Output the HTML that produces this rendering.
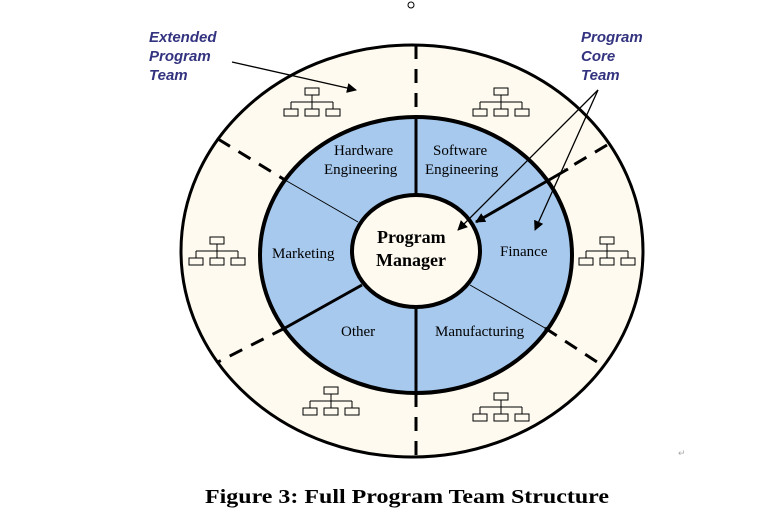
<!DOCTYPE html>
<html><head><meta charset="utf-8"><style>
html,body{margin:0;padding:0;background:#fff;width:779px;height:520px;overflow:hidden}
svg{display:block}
.s{font-family:"Liberation Serif",serif;font-size:15px;fill:#000}
.l{font-family:"Liberation Sans",sans-serif;font-size:15px;font-style:italic;font-weight:bold;fill:#333380}
.p{fill:#aaa;font-family:"Liberation Sans",sans-serif;font-size:9px}
</style></head><body>
<svg width="779" height="520" viewBox="0 0 779 520" xmlns="http://www.w3.org/2000/svg">
<defs>
<marker id="a" markerWidth="10" markerHeight="10" refX="9" refY="5" orient="auto" markerUnits="userSpaceOnUse"><path d="M0,0 L10,5 L0,10 z" fill="#000"/></marker>
<g id="org" fill="none" stroke="#000" stroke-width="1">
<rect x="-7" y="0" width="14" height="7"/><path d="M0,7V14M-21,14H21M-21,14V21M0,14V21M21,14V21"/>
<rect x="-28" y="21" width="14" height="7"/><rect x="-7" y="21" width="14" height="7"/><rect x="14" y="21" width="14" height="7"/>
</g>
</defs>
<circle cx="411" cy="5" r="3" fill="none" stroke="#000" stroke-width="1"/>
<ellipse cx="412" cy="251" rx="231" ry="206" fill="#fefaef" stroke="#000" stroke-width="3"/>
<ellipse cx="416" cy="255" rx="156" ry="138" fill="#a7c9ee" stroke="#000" stroke-width="4"/>
<g stroke="#000" stroke-width="3" stroke-dasharray="14,10" fill="none">
<path d="M416,45V117"/><path d="M416,393V457"/>
<path d="M218,139L285,180"/><path d="M285,328L218,362"/>
<path d="M607,145L565,170"/><path d="M545,328L597,362"/>
</g>
<g stroke="#000" fill="none">
<path d="M416,117V195" stroke-width="3"/><path d="M416,307V393" stroke-width="3"/>
<path d="M285,180L358,222" stroke-width="1"/>
<path d="M362,285L285,328" stroke-width="3"/>
<path d="M470,285L545,328" stroke-width="1"/>
<path d="M568,169L476,222" stroke-width="3" marker-end="url(#a)"/>
</g>
<ellipse cx="416" cy="251" rx="64" ry="56" fill="#fefaef" stroke="#000" stroke-width="4"/>
<g stroke="#000" stroke-width="1.3" fill="none">
<path d="M232,62L356,90" marker-end="url(#a)"/>
<path d="M598,90L458,230" marker-end="url(#a)"/>
<path d="M598,90L535,230" marker-end="url(#a)"/>
</g>
<use href="#org" x="312" y="88"/><use href="#org" x="501" y="88"/>
<use href="#org" x="217" y="237"/><use href="#org" x="607" y="237"/>
<use href="#org" x="331" y="387"/><use href="#org" x="501" y="393"/>
<text class="s" x="334" y="155">Hardware</text>
<text class="s" x="324" y="174">Engineering</text>
<text class="s" x="433" y="155">Software</text>
<text class="s" x="425" y="174">Engineering</text>
<text class="s" x="272" y="258">Marketing</text>
<text class="s" x="500" y="256">Finance</text>
<text class="s" x="341" y="336">Other</text>
<text class="s" x="435" y="336">Manufacturing</text>
<text x="377" y="243" style="font-family:'Liberation Serif',serif;font-weight:bold;font-size:18px">Program</text>
<text x="376" y="266" style="font-family:'Liberation Serif',serif;font-weight:bold;font-size:18px">Manager</text>
<text class="l" x="149" y="42">Extended</text>
<text class="l" x="149" y="61">Program</text>
<text class="l" x="149" y="80">Team</text>
<text class="l" x="581" y="42">Program</text>
<text class="l" x="581" y="61">Core</text>
<text class="l" x="581" y="80">Team</text>
<text x="205" y="503" textLength="404" lengthAdjust="spacingAndGlyphs" style="font-family:'Liberation Serif',serif;font-weight:bold;font-size:20px">Figure 3: Full Program Team Structure</text>
<text class="p" x="678" y="456">↵</text>
</svg>
</body></html>
